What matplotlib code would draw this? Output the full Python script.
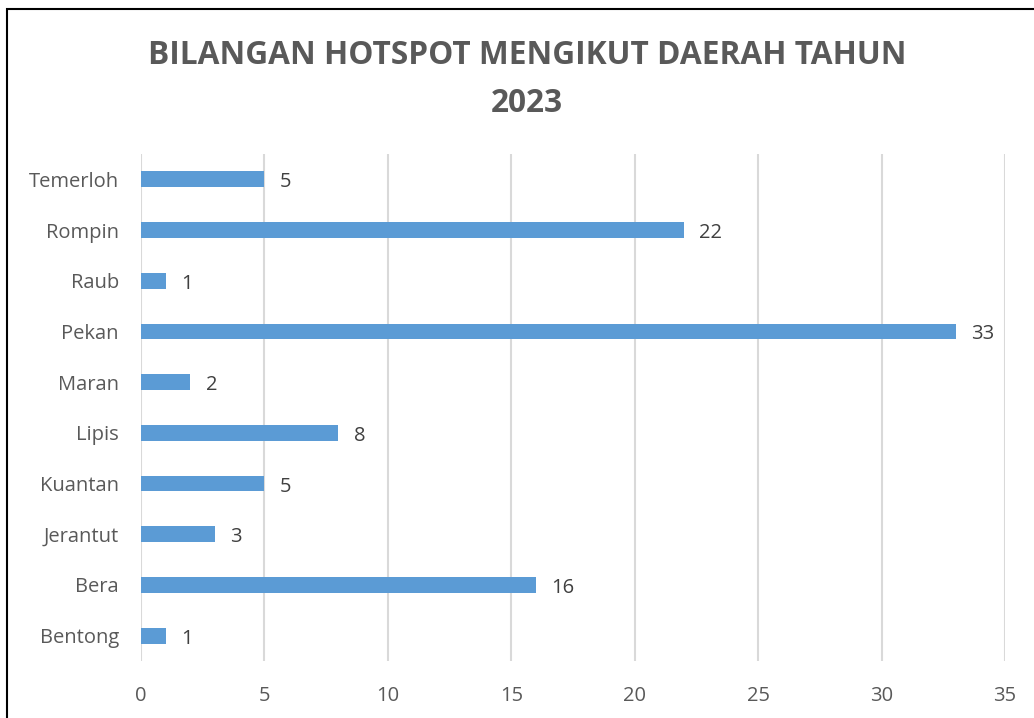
import matplotlib.pyplot as plt
from matplotlib.patches import Rectangle

# data
daerah = ["Bentong", "Bera", "Jerantut", "Kuantan", "Lipis",
          "Maran", "Pekan", "Raub", "Rompin", "Temerloh"]
bilangan = [1, 16, 3, 5, 8, 2, 33, 1, 22, 5]
x_ticks = [0, 5, 10, 15, 20, 25, 30, 35]

plt.rcParams['font.family'] = ['Open Sans', 'DejaVu Sans']

fig = plt.figure(figsize=(10.34, 7.18), dpi=100)
ax = fig.add_axes([141/1034, 57/718, (1005-141)/1034, (661-154)/718])

ypos = list(range(len(daerah)))
ax.barh(ypos, bilangan, height=0.31, color="#5B9BD5", zorder=3)
for y, v in zip(ypos, bilangan):
    ax.text(v + 0.62, y - 0.06, str(v), va="center", ha="left",
            fontsize=14.5, color="#404040")

ax.set_xlim(0, 35)
ax.set_ylim(-0.5, len(daerah) - 0.5)
ax.set_xticks(x_ticks)
ax.set_yticks(ypos)
ax.set_yticklabels(daerah)
ax.tick_params(axis="both", length=0, labelsize=14.5, colors="#595959")
ax.tick_params(axis="x", pad=18)
ax.tick_params(axis="y", pad=16)
ax.grid(axis="x", color="#D9D9D9", linewidth=1.5, zorder=0)
for s in ax.spines.values():
    s.set_visible(False)

fig.text(527/1034, 1 - 56/718, "BILANGAN HOTSPOT MENGIKUT DAERAH TAHUN",
         ha="center", va="center", fontsize=22.8, fontweight="bold", color="#595959")
fig.text(527/1034, 1 - 103/718, "2023",
         ha="center", va="center", fontsize=22.8, fontweight="bold", color="#595959")

# frame around chart
fig.patches.append(Rectangle((7/1034, -0.05), 1.2, 1 - 9/718 + 0.05,
                             transform=fig.transFigure, fill=False,
                             edgecolor="black", linewidth=1.5))

fig.savefig("out.png", dpi=100)
